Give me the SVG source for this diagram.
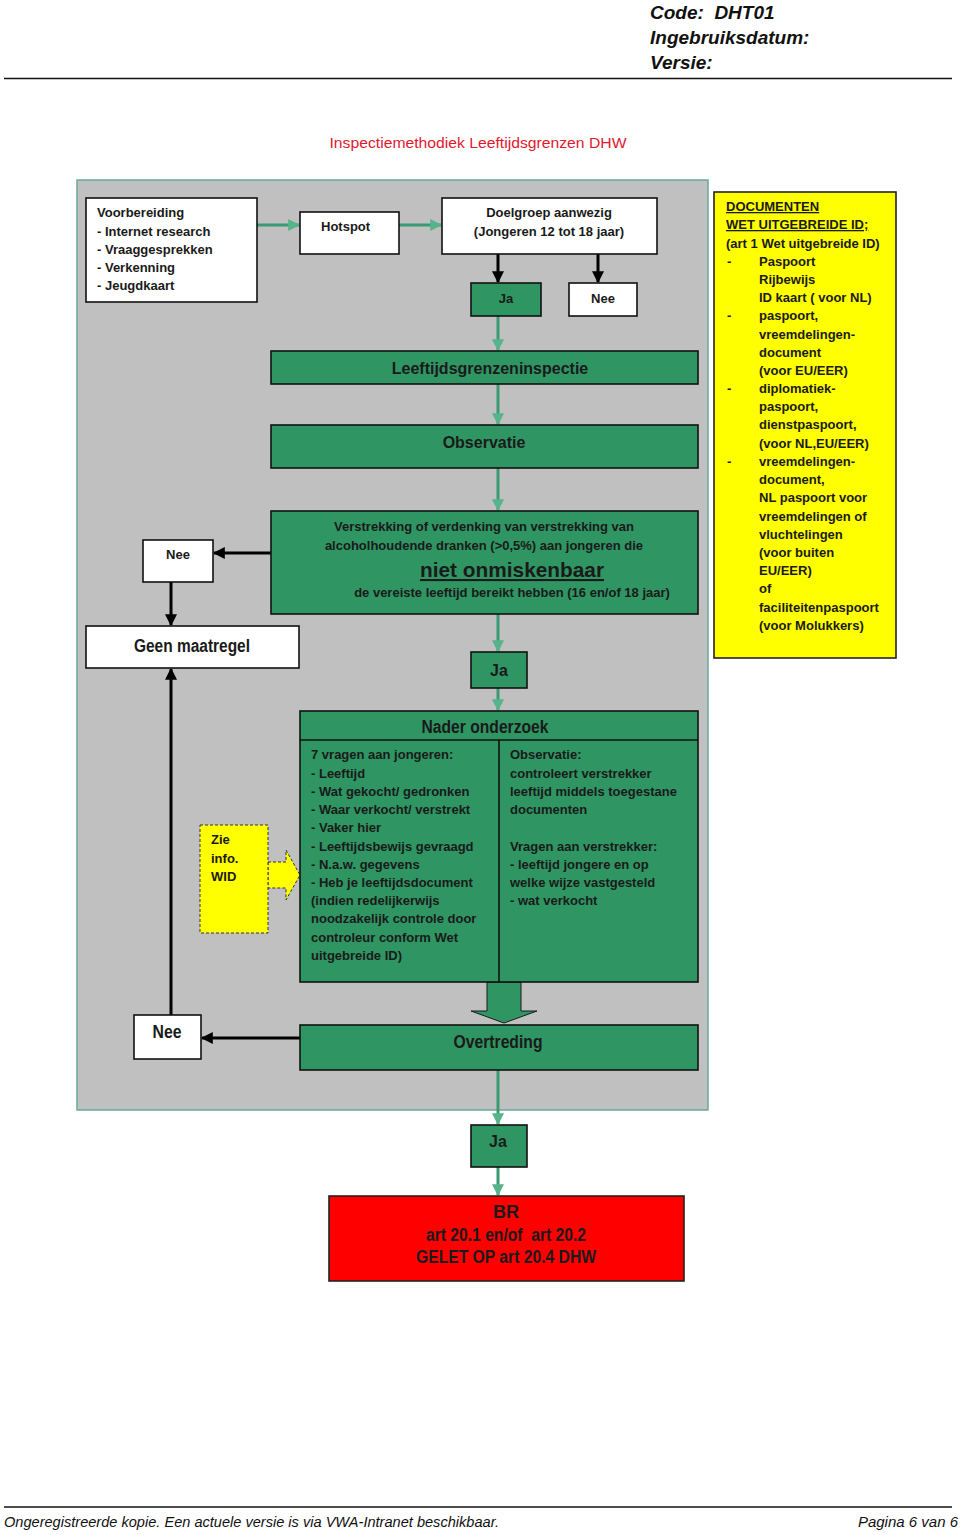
<svg xmlns="http://www.w3.org/2000/svg" width="960" height="1535" viewBox="0 0 960 1535">
<defs>
<style>
.hdr{font-family:"Liberation Sans",Arial,sans-serif;font-style:italic;font-weight:bold;font-size:19px;fill:#111}
.ftr{font-family:"Liberation Sans",Arial,sans-serif;font-style:italic;font-size:15px;fill:#111}
.t{font-family:"Liberation Sans Narrow","Liberation Sans",Arial,sans-serif;font-weight:bold;fill:#1a1a1a}
.s13{font-size:13px}
.s16{font-size:16px}
.s18{font-size:18px}
.box{stroke:#111;stroke-width:1.6}
.white{fill:#fff}
.green{fill:#2f9563}
.gline{stroke:#3a9a72;stroke-width:3;fill:none}
.bline{stroke:#000;stroke-width:3;fill:none}
</style>
<marker id="ga" viewBox="0 0 10 10" refX="9" refY="5" markerWidth="4" markerHeight="4" orient="auto" markerUnits="strokeWidth"><path d="M0,0 L10,5 L0,10 z" fill="#56b38a"/></marker>
<marker id="ba" viewBox="0 0 10 10" refX="9" refY="5" markerWidth="4" markerHeight="4" orient="auto" markerUnits="strokeWidth"><path d="M0,0 L10,5 L0,10 z" fill="#000"/></marker>
</defs>
<rect x="0" y="0" width="960" height="1535" fill="#fff"/>

<g id="page-header">
<text class="hdr" x="650" y="19" xml:space="preserve">Code:  DHT01</text>
<text class="hdr" x="650" y="44">Ingebruiksdatum:</text>
<text class="hdr" x="650" y="69">Versie:</text>
<line x1="4" y1="78.5" x2="952" y2="78.5" stroke="#111" stroke-width="1.6"/>
</g>

<text x="478" y="148" text-anchor="middle" font-family="Liberation Sans,Arial,sans-serif" font-size="15" fill="#e3172e" textLength="297" lengthAdjust="spacingAndGlyphs">Inspectiemethodiek Leeftijdsgrenzen DHW</text>

<rect id="panel" x="77" y="180" width="631" height="930" fill="#c0c0c0" stroke="#6aa898" stroke-width="1.5"/>

<g id="connectors">
<line class="gline" x1="257" y1="225" x2="299" y2="225" marker-end="url(#ga)"/>
<line class="gline" x1="399" y1="225" x2="441" y2="225" marker-end="url(#ga)"/>
<line class="bline" x1="498" y1="254" x2="498" y2="282" marker-end="url(#ba)"/>
<line class="bline" x1="598" y1="254" x2="598" y2="282" marker-end="url(#ba)"/>
<line class="gline" x1="498" y1="316" x2="498" y2="350" marker-end="url(#ga)"/>
<line class="gline" x1="498" y1="384" x2="498" y2="424" marker-end="url(#ga)"/>
<line class="gline" x1="498" y1="468" x2="498" y2="510" marker-end="url(#ga)"/>
<line class="bline" x1="271" y1="553" x2="214" y2="553" marker-end="url(#ba)"/>
<line class="bline" x1="171" y1="582" x2="171" y2="625" marker-end="url(#ba)"/>
<line class="gline" x1="498" y1="614" x2="498" y2="651" marker-end="url(#ga)"/>
<line class="gline" x1="498" y1="688" x2="498" y2="710" marker-end="url(#ga)"/>
<line class="bline" x1="300" y1="1038" x2="202" y2="1038" marker-end="url(#ba)"/>
<line class="bline" x1="171" y1="1015" x2="171" y2="669" marker-end="url(#ba)"/>
<line class="gline" x1="498" y1="1070" x2="498" y2="1124" marker-end="url(#ga)"/>
<line class="gline" x1="498" y1="1167" x2="498" y2="1195" marker-end="url(#ga)"/>
<path d="M487,982 L521,982 L521,1011 L537,1011 L504,1023 L471,1011 L487,1011 z" fill="#2f9563" stroke="#1a1a1a" stroke-width="1"/>
<path d="M268,862 L286,862 L286,850 L300,875 L286,900 L286,888 L268,888 z" fill="#ffff00" stroke="#333" stroke-width="1" stroke-dasharray="3,2"/>
</g>

<g id="n-voorbereiding">
<rect class="box white" x="86" y="198" width="171" height="104"/>
<text class="t s13" x="97" y="217">Voorbereiding</text>
<text class="t s13" x="97" y="236">- Internet research</text>
<text class="t s13" x="97" y="254">- Vraaggesprekken</text>
<text class="t s13" x="97" y="272">- Verkenning</text>
<text class="t s13" x="97" y="290">- Jeugdkaart</text>
</g>
<g id="n-hotspot">
<rect class="box white" x="300" y="212" width="99" height="42"/>
<text class="t s13" x="321" y="231">Hotspot</text>
</g>
<g id="n-doelgroep">
<rect class="box white" x="442" y="198" width="215" height="56"/>
<text class="t s13" x="549" y="217" text-anchor="middle">Doelgroep aanwezig</text>
<text class="t s13" x="549" y="236" text-anchor="middle">(Jongeren 12 tot 18 jaar)</text>
</g>
<g id="n-ja1">
<rect class="box green" x="471" y="283" width="70" height="33"/>
<text class="t s13" x="506" y="303" text-anchor="middle">Ja</text>
</g>
<g id="n-nee1">
<rect class="box white" x="569" y="283" width="68" height="33"/>
<text class="t s13" x="603" y="303" text-anchor="middle">Nee</text>
</g>
<g id="n-leeftijdsgrenzeninspectie">
<rect class="box green" x="271" y="351" width="427" height="33"/>
<text class="t s16" x="490" y="374" text-anchor="middle">Leeftijdsgrenzeninspectie</text>
</g>
<g id="n-observatie">
<rect class="box green" x="271" y="425" width="427" height="43"/>
<text class="t s16" x="484" y="448" text-anchor="middle">Observatie</text>
</g>
<g id="n-verstrekking">
<rect class="box green" x="271" y="511" width="427" height="103"/>
<text class="t s13" x="484" y="531" text-anchor="middle">Verstrekking of verdenking van verstrekking van</text>
<text class="t s13" x="484" y="550" text-anchor="middle">alcoholhoudende dranken (&gt;0,5%) aan jongeren die</text>
<text class="t" font-size="21" x="512" y="577" text-anchor="middle" text-decoration="underline" textLength="184" lengthAdjust="spacingAndGlyphs">niet onmiskenbaar</text>
<text class="t s13" x="512" y="597" text-anchor="middle">de vereiste leeftijd bereikt hebben (16 en/of 18 jaar)</text>
</g>
<g id="n-nee2">
<rect class="box white" x="143" y="540" width="70" height="42"/>
<text class="t s13" x="178" y="559" text-anchor="middle">Nee</text>
</g>
<g id="n-geen-maatregel">
<rect class="box white" x="86" y="626" width="213" height="42"/>
<text class="t s18" x="192" y="652" text-anchor="middle" textLength="116" lengthAdjust="spacingAndGlyphs">Geen maatregel</text>
</g>
<g id="n-ja2">
<rect class="box green" x="471" y="652" width="56" height="36"/>
<text class="t s16" x="499" y="676" text-anchor="middle">Ja</text>
</g>
<g id="n-nader-onderzoek">
<rect class="box green" x="300" y="711" width="398" height="271"/>
<line x1="300" y1="740" x2="698" y2="740" stroke="#111" stroke-width="1.6"/>
<line x1="499" y1="740" x2="499" y2="982" stroke="#111" stroke-width="1.6"/>
<text class="t s18" x="485" y="733" text-anchor="middle" textLength="127" lengthAdjust="spacingAndGlyphs">Nader onderzoek</text>
<text class="t s13" x="311" y="759">7 vragen aan jongeren:</text>
<text class="t s13" x="311" y="778">- Leeftijd</text>
<text class="t s13" x="311" y="796">- Wat gekocht/ gedronken</text>
<text class="t s13" x="311" y="814">- Waar verkocht/ verstrekt</text>
<text class="t s13" x="311" y="832">- Vaker hier</text>
<text class="t s13" x="311" y="851">- Leeftijdsbewijs gevraagd</text>
<text class="t s13" x="311" y="869">- N.a.w. gegevens</text>
<text class="t s13" x="311" y="887">- Heb je leeftijdsdocument</text>
<text class="t s13" x="311" y="905">(indien redelijkerwijs</text>
<text class="t s13" x="311" y="923">noodzakelijk controle door</text>
<text class="t s13" x="311" y="942">controleur conform Wet</text>
<text class="t s13" x="311" y="960">uitgebreide ID)</text>
<text class="t s13" x="510" y="759">Observatie:</text>
<text class="t s13" x="510" y="778">controleert verstrekker</text>
<text class="t s13" x="510" y="796">leeftijd middels toegestane</text>
<text class="t s13" x="510" y="814">documenten</text>
<text class="t s13" x="510" y="851">Vragen aan verstrekker:</text>
<text class="t s13" x="510" y="869">- leeftijd jongere en op</text>
<text class="t s13" x="510" y="887">welke wijze vastgesteld</text>
<text class="t s13" x="510" y="905">- wat verkocht</text>
</g>
<g id="n-zie-info">
<rect x="200" y="825" width="68" height="108" fill="#ffff00" stroke="#333" stroke-width="1" stroke-dasharray="3,2"/>
<text class="t s13" x="211" y="844">Zie</text>
<text class="t s13" x="211" y="863">info.</text>
<text class="t s13" x="211" y="881">WID</text>
</g>
<g id="n-nee3">
<rect class="box white" x="134" y="1015" width="67" height="44"/>
<text class="t s18" x="167" y="1038" text-anchor="middle" textLength="29" lengthAdjust="spacingAndGlyphs">Nee</text>
</g>
<g id="n-overtreding">
<rect class="box green" x="300" y="1025" width="398" height="45"/>
<text class="t s18" x="498" y="1048" text-anchor="middle" textLength="89" lengthAdjust="spacingAndGlyphs">Overtreding</text>
</g>
<g id="n-ja3">
<rect class="box green" x="471" y="1125" width="56" height="42"/>
<text class="t s16" x="498" y="1147" text-anchor="middle">Ja</text>
</g>
<g id="n-br">
<rect x="329" y="1196" width="355" height="85" fill="#ff0000" stroke="#222" stroke-width="1.6"/>
<text class="t s18" x="506" y="1218" text-anchor="middle">BR</text>
<text class="t s18" x="506" y="1241" text-anchor="middle" textLength="160" lengthAdjust="spacingAndGlyphs" xml:space="preserve">art 20.1 en/of  art 20.2</text>
<text class="t s18" x="506" y="1263" text-anchor="middle" textLength="180" lengthAdjust="spacingAndGlyphs">GELET OP art 20.4 DHW</text>
</g>
<g id="n-documenten">
<rect x="714" y="192" width="182" height="466" fill="#ffff00" stroke="#222" stroke-width="1.6"/>
<text class="t s13" x="726" y="211" text-decoration="underline">DOCUMENTEN</text>
<text class="t s13" x="726" y="229" text-decoration="underline">WET UITGEBREIDE ID;</text>
<text class="t s13" x="726" y="248">(art 1 Wet uitgebreide ID)</text>
<text class="t s13" x="727" y="266">-</text>
<text class="t s13" x="759" y="266">Paspoort</text>
<text class="t s13" x="759" y="284">Rijbewijs</text>
<text class="t s13" x="759" y="302">ID kaart ( voor NL)</text>
<text class="t s13" x="727" y="320">-</text>
<text class="t s13" x="759" y="320">paspoort,</text>
<text class="t s13" x="759" y="339">vreemdelingen-</text>
<text class="t s13" x="759" y="357">document</text>
<text class="t s13" x="759" y="375">(voor EU/EER)</text>
<text class="t s13" x="727" y="393">-</text>
<text class="t s13" x="759" y="393">diplomatiek-</text>
<text class="t s13" x="759" y="411">paspoort,</text>
<text class="t s13" x="759" y="429">dienstpaspoort,</text>
<text class="t s13" x="759" y="448">(voor NL,EU/EER)</text>
<text class="t s13" x="727" y="466">-</text>
<text class="t s13" x="759" y="466">vreemdelingen-</text>
<text class="t s13" x="759" y="484">document,</text>
<text class="t s13" x="759" y="502">NL paspoort voor</text>
<text class="t s13" x="759" y="521">vreemdelingen of</text>
<text class="t s13" x="759" y="539">vluchtelingen</text>
<text class="t s13" x="759" y="557">(voor buiten</text>
<text class="t s13" x="759" y="575">EU/EER)</text>
<text class="t s13" x="759" y="593">of</text>
<text class="t s13" x="759" y="612">faciliteitenpaspoort</text>
<text class="t s13" x="759" y="630">(voor Molukkers)</text>
</g>

<g id="page-footer">
<line x1="4" y1="1507" x2="952" y2="1507" stroke="#111" stroke-width="1.6"/>
<text class="ftr" x="4" y="1527" textLength="495" lengthAdjust="spacingAndGlyphs">Ongeregistreerde kopie. Een actuele versie is via VWA-Intranet beschikbaar.</text>
<text class="ftr" x="958" y="1527" text-anchor="end">Pagina 6 van 6</text>
</g>
</svg>
